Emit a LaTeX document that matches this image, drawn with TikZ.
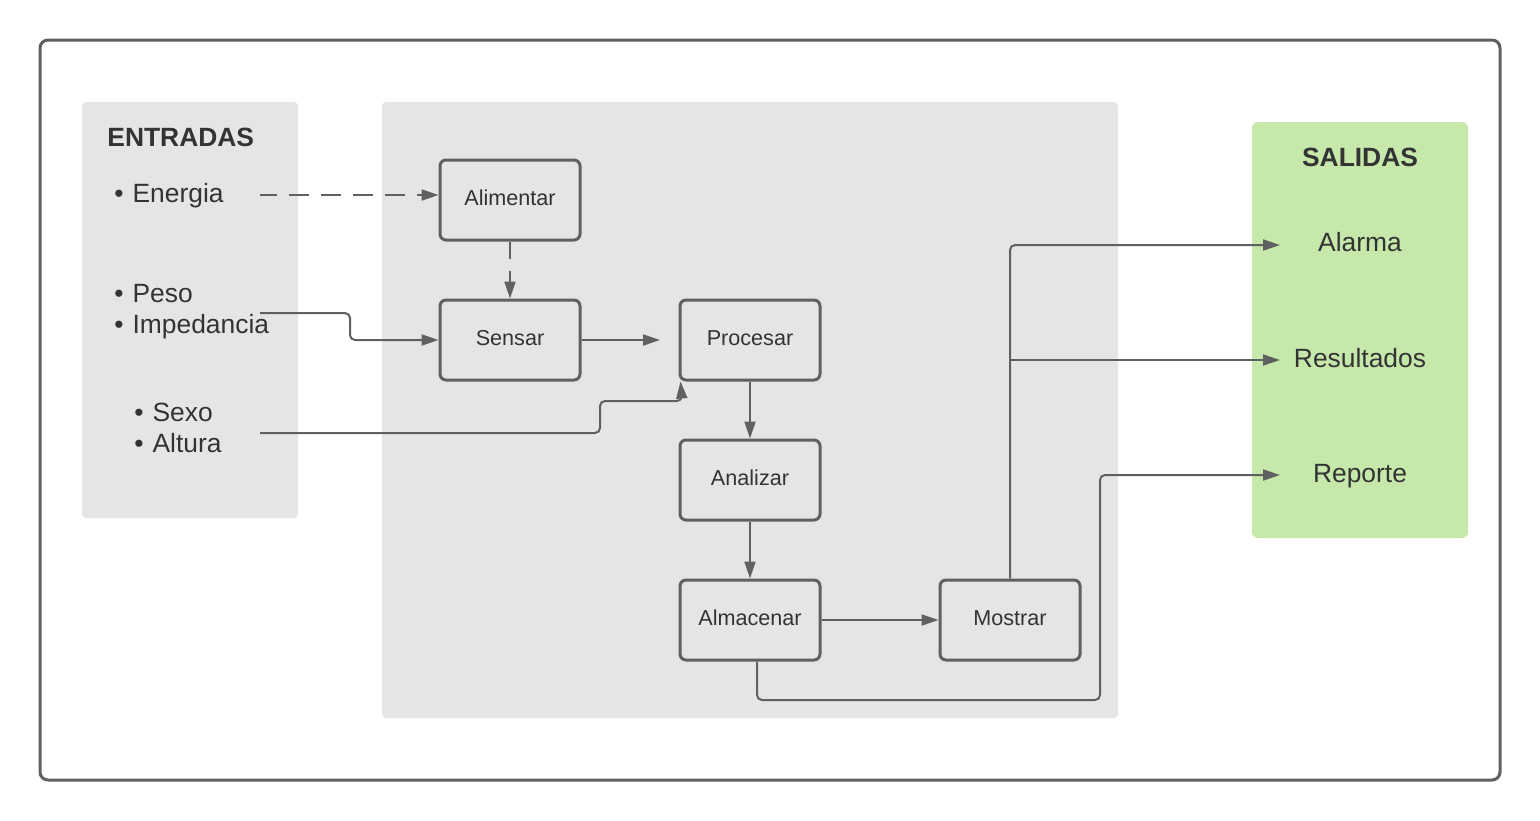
\documentclass[tikz,border=0pt]{standalone}
\usepackage{fontspec}
\setmainfont{Liberation Sans}
\usepackage{xcolor}
\usetikzlibrary{arrows.meta}
\definecolor{lineagris}{HTML}{606060}
\definecolor{fondogris}{HTML}{E5E5E5}
\definecolor{fondoverde}{HTML}{C6E8AB}
\definecolor{textogris}{HTML}{333333}
\newcommand{\punto}{\textbullet\hspace{0.34em}}
\begin{document}
\begin{tikzpicture}[x=0.5pt,y=-0.5pt,>={Triangle[length=8.5pt,width=5.5pt]},
  caja/.style={draw=lineagris,line width=1.5pt,rounded corners=3pt,fill=fondogris,
    minimum width=70pt,minimum height=40pt,inner sep=0pt,text=textogris,
    text height=7.8pt,text depth=2.5pt,font=\fontsize{10.8}{12}\selectfont},
  texto/.style={text=textogris,inner sep=0pt,font=\fontsize{13.2}{15}\selectfont},
  titulo/.style={texto,font=\fontsize{13.2}{15}\selectfont\bfseries},
  flecha/.style={draw=lineagris,line width=1pt,->,rounded corners=2.5pt},
  trazos/.style={dash pattern=on 10pt off 6pt,dash phase=1.5pt}]
\useasboundingbox (0,0) rectangle (1540,820);
% marco
\draw[lineagris,line width=1.5pt,rounded corners=4pt] (40,40) rectangle (1500,780);
% paneles
\fill[fondogris,rounded corners=2pt] (82,102) rectangle (298,518);
\fill[fondogris,rounded corners=2pt] (382,102) rectangle (1118,718);
\fill[fondoverde,rounded corners=3pt] (1252,122) rectangle (1468,538);
% entradas
\node[titulo,anchor=base west] (entradas) at (107,146.5) {ENTRADAS};
\node[texto,anchor=base west] (energia) at (114,202) {\punto Energia};
\node[texto,anchor=base west] (peso) at (114,302) {\punto Peso};
\node[texto,anchor=base west] (impedancia) at (114,333) {\punto Impedancia};
\node[texto,anchor=base west] (sexo) at (134,421) {\punto Sexo};
\node[texto,anchor=base west] (altura) at (134,452) {\punto Altura};
\coordinate (e1) at (260,195);
\coordinate (e2) at (260,313);
\coordinate (e3) at (260,433);
% proceso
\node[caja] (alim) at (510,200) {Alimentar};
\node[caja] (sens) at (510,340) {Sensar};
\node[caja] (proc) at (750,340) {Procesar};
\node[caja] (anal) at (750,480) {Analizar};
\node[caja] (alma) at (750,620) {Almacenar};
\node[caja] (most) at (1010,620) {Mostrar};
% salidas
\node[titulo,anchor=base] (salidas) at (1360,166) {SALIDAS};
\node[texto,anchor=base] (alarma) at (1360,251) {Alarma};
\node[texto,anchor=base] (result) at (1360,367) {Resultados};
\node[texto,anchor=base] (reporte) at (1360,482) {Reporte};
\coordinate (s1) at (1280,245);
\coordinate (s2) at (1280,360);
\coordinate (s3) at (1280,475);
\coordinate (p1) at (660,340);
% conectores
\draw[flecha,trazos] (e1) -- (e1 -| alim.west);
\draw[flecha,trazos] (alim.south) -- (sens.north);
\draw[flecha] (e2) -| (350,327) |- (sens.west);
\draw[flecha] (sens.east) -- (p1);
\draw[flecha] (e3) -| (600,417) |- (682,401) -- ([xshift=1pt]proc.south west);
\draw[flecha] (proc.south) -- (anal.north);
\draw[flecha] (anal.south) -- (alma.north);
\draw[flecha] (alma.east) -- (most.west);
\draw[flecha] (most.north) |- (s1);
\draw[flecha] (most.north |- s2) -- (s2);
\draw[flecha] ([xshift=3.5pt]alma.south) |- (1100,700) |- (s3);
\end{tikzpicture}
\end{document}
